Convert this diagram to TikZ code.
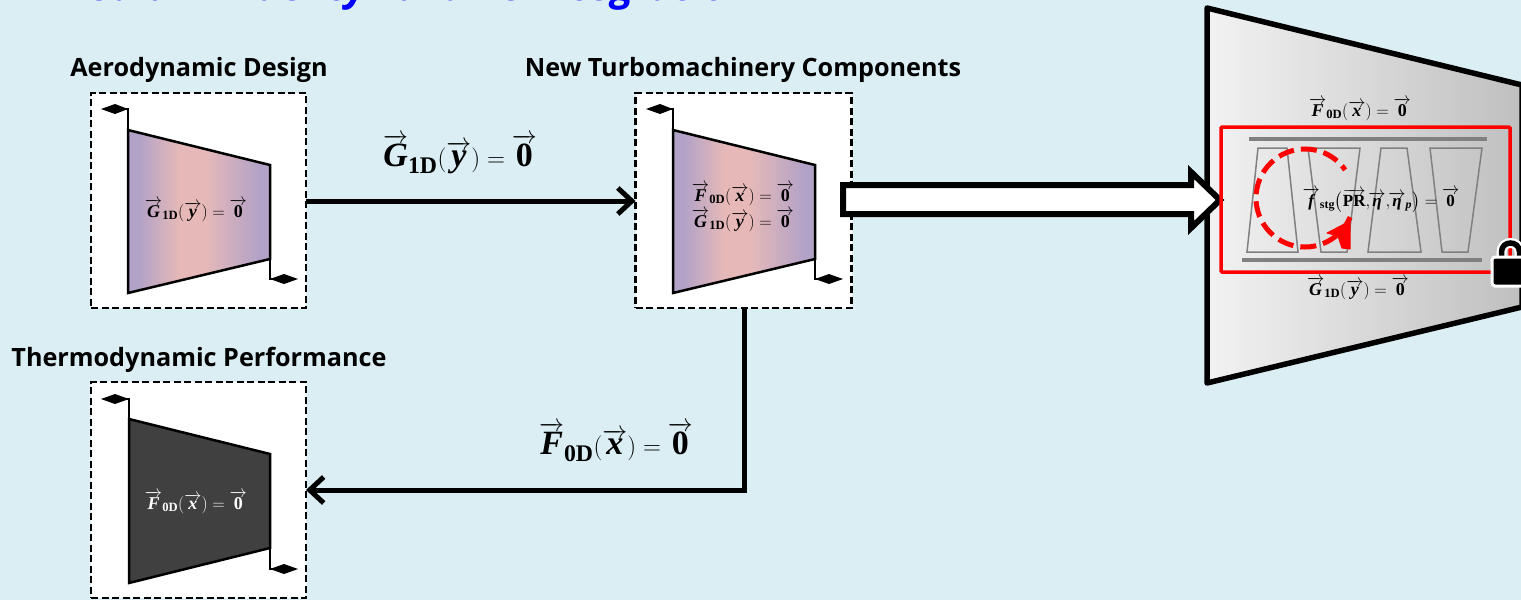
\documentclass[tikz,border=0pt]{standalone}
\usepackage{amsmath}
\usepackage[no-math]{fontspec}
\setmainfont{Open Sans}
\newfontfamily\mfam{Liberation Serif}
\usetikzlibrary{arrows.meta,calc,shapes.geometric}
\definecolor{bgc}{HTML}{DAEEF3}
\definecolor{purp}{HTML}{B3A2C7}
\definecolor{pinkc}{HTML}{E6B9B8}
\definecolor{darkf}{HTML}{404040}
\pgfdeclarehorizontalshading{turb}{100bp}{color(0bp)=(purp); color(29bp)=(purp); color(43bp)=(pinkc); color(52bp)=(pinkc); color(71bp)=(purp); color(100bp)=(purp)}
\newcommand{\bI}[1]{\text{\mfam\bfseries\itshape #1}}
\newcommand{\bR}[1]{\text{\mfam\bfseries #1}}
\newcommand{\va}[1]{\overrightarrow{#1}}
\newcommand{\FOD}{\va{\bI{F}}_{\bR{0D}}(\va{\bI{x}})=\va{\bR{0}}}
\newcommand{\GID}{\va{\bI{G}}_{\bR{1D}}(\va{\bI{y}})=\va{\bR{0}}}
\newcommand{\fz}[1]{\fontsize{#1}{#1}\selectfont}
\tikzset{
  box/.style={draw=black,fill=white,line width=2.5pt,dash pattern=on 7pt off 3.5pt,minimum width=215pt,minimum height=215pt,inner sep=0pt,outer sep=0pt,anchor=north west},
  trap/.style={draw=black,line width=2.5pt,line join=miter},
  stub/.style={draw=black,line width=2.2pt},
  dia/.style={fill=black,draw=none},
  flow/.style={draw=black,line width=5pt,-{Straight Barb[length=14pt,width=26pt,line width=5pt]}},
  heading/.style={font=\fz{25.2}\bfseries,inner sep=0pt,text=black},
  blade/.style={draw=gray,line width=1.5pt},
  rail/.style={draw=gray,line width=3.5pt},
  eqs/.style={inner sep=0pt,font=\fz{18}},
  eqb/.style={inner sep=0pt,font=\fz{34}},
}
\begin{document}
\begin{tikzpicture}[x=1pt,y=-1pt]
\useasboundingbox (0,0) rectangle (1521,600);
\clip (0,0) rectangle (1521,600);
\fill[bgc] (0,0) rectangle (1521,600);
% title
\node[anchor=base west,inner sep=0pt,text=blue,font=\fz{41}\bfseries\itshape] (title) at (52,0) {Medium-Fidelity Turbine Integration};
% headings
\node[heading] (h1) at (199,69.5) {Aerodynamic Design};
\node[heading] (h2) at (743,69.5) {New Turbomachinery Components};
\node[heading] (h3) at (199,359.5) {Thermodynamic Performance};
% boxes
\node[box] (b1) at (91,93) {};
\node[box,minimum width=216pt] (b2) at (635.5,93) {};
\node[box,minimum height=216pt] (b3) at (91,382) {};
% turbines
\foreach \ox/\oy/\nm in {0/0/a,545/0/b}{
  \begin{scope}[shift={(\ox,\oy)}]
    \shade[shading=turb] (128,130) -- (270,165) -- (270,259) -- (128,293) -- cycle;
    \draw[trap] (128,130) -- (270,165) -- (270,259) -- (128,293) -- cycle;
    \draw[stub] (128,131) -- (128,109) -- (115,109);
    \fill[dia] (101,109) -- (115,104) -- (128,109) -- (115,114) -- cycle;
    \draw[stub] (270,259) -- (270,279) -- (285,279);
    \fill[dia] (270,279) -- (284,274) -- (298,279) -- (284,284) -- cycle;
  \end{scope}
}
\draw[trap,fill=darkf] (129,419) -- (270,454) -- (270,548) -- (129,583) -- cycle;
\draw[stub] (129,420) -- (129,399) -- (115,399);
\fill[dia] (101,399) -- (115,394) -- (129,399) -- (115,404) -- cycle;
\draw[stub] (270,548) -- (270,569) -- (285,569);
\fill[dia] (270,569) -- (284,564) -- (298,569) -- (284,574) -- cycle;
% labels in turbines
\node[eqs] (l1) at (196,210) {$\GID$};
\node[eqs] (l2) at (743,194) {$\FOD$};
\node[eqs] (l3) at (743,220) {$\GID$};
\node[eqs,text=white] (l4) at (196,502) {$\FOD$};
% connectors
\draw[flow] (b1.east |- 0,201) -- (b2.west |- 0,201);
\coordinate (corner) at (744,490);
\draw[flow] (b2.south -| corner) -- (corner) -- (b3.east |- corner);
\node[eqb] (g) at (460,154) {$\GID$};
\node[eqb] (f) at (616,442) {$\FOD$};
% big turbine
\shade[left color=white!95!black,right color=black!25] (1207,8) -- (1522,85) -- (1522,307) -- (1207,383) -- cycle;
\draw[draw=black,line width=5.5pt,line join=round] (1207,8) -- (1522,85) -- (1522,307) -- (1207,383) -- cycle;
% hollow arrow
\draw[draw=black,fill=white,line width=6pt,line join=miter] (843,185) -- (1191,185) -- (1191,172) -- (1220,200) -- (1191,228) -- (1191,214) -- (843,214) -- cycle;
% stage
\node[draw=red,line width=3.5pt,rounded corners=1pt,minimum width=289pt,minimum height=145pt,inner sep=0pt,outer sep=0pt,anchor=north west] (stage) at (1221,127) {};
\draw[rail] (1249,139) -- (1487,139);
\draw[rail] (1242,260) -- (1482,260);
\draw[blade] (1258,148) -- (1287,148) -- (1298,252) -- (1247,252) -- cycle;
\draw[blade] (1308,148) -- (1360,148) -- (1347,252) -- (1321,252) -- cycle;
\draw[blade] (1381,148) -- (1407,148) -- (1421,252) -- (1368,252) -- cycle;
\draw[blade] (1430,148) -- (1482,148) -- (1468,252) -- (1442,252) -- cycle;
\node[eqs] (m1) at (1360,109) {$\FOD$};
\node[eqs] (m2) at (1358,288) {$\GID$};
\node[inner sep=0pt,font=\fz{17}] (m3) at (1381,200) {$\va{\bI{f}}_{\bR{stg}}\bigl(\va{\bR{PR}}{,}\mkern-2mu\va{\bI{η}}{,}\mkern-2mu\va{\bI{η}}_{\bI{p}}\bigr)=\va{\bR{0}}$};
% dashed loop
\draw[red,line width=5pt,dash pattern=on 16pt off 7pt] (1305,198) ++(23:49) arc[start angle=23,end angle=325,radius=49];
\fill[red,draw=red,line width=1pt,line join=round] (1350,221) -- (1327,233) -- (1338,236) -- (1342,248) -- (1350,249) -- cycle;
% lock
\draw[white,line width=10pt] (1501.5,260) -- (1501.5,252) .. controls (1501.5,240) and (1519.5,240) .. (1519.5,252) -- (1519.5,260);
\draw[black,line width=5.5pt] (1501.5,260) -- (1501.5,252) .. controls (1501.5,240) and (1519.5,240) .. (1519.5,252) -- (1519.5,260);
\draw[white,fill=black,line width=3pt,rounded corners=3pt] (1492,257) rectangle (1535,286);
\end{tikzpicture}
\end{document}
